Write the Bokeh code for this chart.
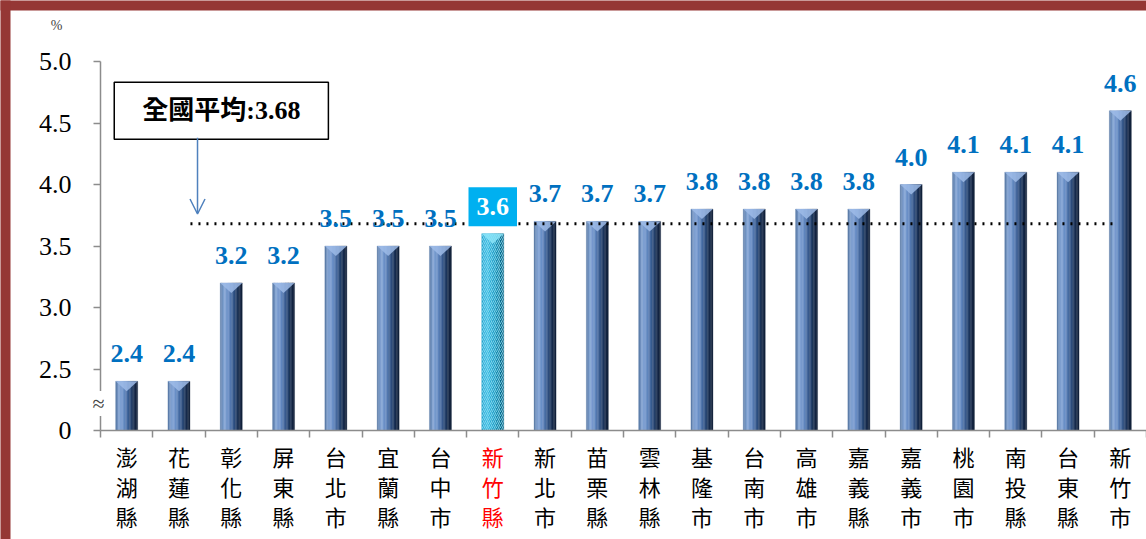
import numpy as np
from bokeh.plotting import figure
from bokeh.models import (Range1d, FixedTicker, ColumnDataSource, LabelSet, Label,
                          Arrow, OpenHead)
from bokeh.core.properties import value
from bokeh.embed import file_html
from bokeh.resources import INLINE

# ---------------- data ----------------
categories = ["澎湖縣", "花蓮縣", "彰化縣", "屏東縣", "台北市", "宜蘭縣", "台中市",
              "新竹縣", "新北市", "苗栗縣", "雲林縣", "基隆市", "台南市", "高雄市",
              "嘉義縣", "嘉義市", "桃園市", "南投縣", "台東縣", "新竹市"]
values = [2.4, 2.4, 3.2, 3.2, 3.5, 3.5, 3.5, 3.6, 3.7, 3.7, 3.7, 3.8, 3.8, 3.8,
          3.8, 4.0, 4.1, 4.1, 4.1, 4.6]
highlight = "新竹縣"
national_avg = 3.68
avg_text = "全國平均:3.68"
y_ticks = [2.0, 2.5, 3.0, 3.5, 4.0, 4.5, 5.0]
y_tick_labels = ["0", "2.5", "3.0", "3.5", "4.0", "4.5", "5.0"]
unit_label = "%"
break_mark = "≈"

# ---------------- helpers ----------------
def hex2rgb(h):
    h = h.lstrip("#")
    return np.array([int(h[i:i + 2], 16) for i in (0, 2, 4)], dtype=float)

def grad(stops, t):
    for (t0, c0), (t1, c1) in zip(stops[:-1], stops[1:]):
        if t0 <= t <= t1:
            f = (t - t0) / (t1 - t0)
            c = hex2rgb(c0) * (1 - f) + hex2rgb(c1) * f
            return "#%02x%02x%02x" % tuple(int(round(v)) for v in c)
    return stops[-1][1]

n = len(categories)
xs = np.arange(n) + 0.5
vals = np.array(values)
is_hl = np.array([c == highlight for c in categories])
base = y_ticks[0]

# canvas geometry (frame covers the whole canvas, axes are pinned)
W, H = 1146, 539
LEFT_PX, BOTTOM_PX = 100, 109          # room for tick labels
PX_X = (W - LEFT_PX) / n               # pixels per category
PX_Y = 123.0                           # pixels per data unit
x_rng = Range1d(-LEFT_PX / PX_X, n)
y_rng = Range1d(base - BOTTOM_PX / PX_Y, base + (H - BOTTOM_PX) / PX_Y)

p = figure(width=W, height=H, x_range=x_rng, y_range=y_rng,
           output_backend="svg", toolbar_location=None, min_border=0,
           min_border_left=0, min_border_right=0, min_border_top=0, min_border_bottom=0)
p.background_fill_color = "white"
p.border_fill_color = "white"
p.outline_line_color = None
p.xgrid.visible = False
p.ygrid.visible = False

# dark red frame strips (top and left)
red = "#953735"
bx, by = 10 / PX_X, 10 / PX_Y
p.quad(left=[x_rng.start - 1, x_rng.start - 1], right=[x_rng.end + 1, x_rng.start + bx],
       top=[y_rng.end + 1, y_rng.end + 1], bottom=[y_rng.end - by, y_rng.start - 1],
       fill_color=red, line_color=None)

# ---------------- bars ----------------
bar_w = 0.42
N = 16
blue_stops = [(0.0, "#54749f"), (0.18, "#86a7d8"), (0.4, "#6389c2"),
              (0.62, "#345689"), (0.82, "#192f52"), (1.0, "#101e36")]
cyan_stops = [(0.0, "#1f9cc6"), (0.25, "#3dbde6"), (0.55, "#1899c4"),
              (0.85, "#0c6f92"), (1.0, "#095a77")]

for mask, stops in ((~is_hl, blue_stops), (is_hl, cyan_stops)):
    for k in range(N):
        t = (k + 0.5) / N
        off = -bar_w / 2 + (k + 0.5) * bar_w / N
        c = grad(stops, t)
        p.vbar(x=xs[mask] + off, width=bar_w / N * 1.05, top=vals[mask], bottom=base,
               fill_color=c, line_color=c, line_width=0.3)

p.vbar(x=xs[is_hl], width=bar_w, top=vals[is_hl], bottom=base, fill_alpha=0,
       line_color=None, hatch_pattern="/", hatch_color="#8fe0f5", hatch_alpha=0.8,
       hatch_scale=4, hatch_weight=1)

d = 10 / PX_Y
for mask, col in ((~is_hl, "#9dbbe8"), (is_hl, "#8be4f8")):
    px = [[x - bar_w / 2, x + bar_w / 2, x] for x in xs[mask]]
    py = [[v, v, v - d] for v in vals[mask]]
    p.patches(px, py, fill_color=col, fill_alpha=0.85, line_color=None)

# average dotted line
p.line(x=[1.72, 19.37], y=[national_avg, national_avg], line_color="black",
       line_width=3, line_dash="2 6")

# ---------------- value labels ----------------
src_norm = ColumnDataSource(dict(x=xs[~is_hl], y=vals[~is_hl],
                                 t=[f"{v:.1f}" for v in vals[~is_hl]]))
p.add_layout(LabelSet(x="x", y="y", text="t", source=src_norm, text_align="center",
                      text_baseline="alphabetic", y_offset=19,
                      text_font=value("Liberation Serif"), text_font_style="bold",
                      text_font_size="26px", text_color="#0070C0"))
for x, v in zip(xs[is_hl], vals[is_hl]):
    p.add_layout(Label(x=float(x), y=float(v), text=f"{v:.1f}", text_align="center",
                       text_baseline="middle", y_offset=27,
                       text_font="Liberation Serif", text_font_style="bold",
                       text_font_size="26px", text_color="white",
                       background_fill_color="#00B0F0", padding=(8, 8, 11, 11)))

# category labels (multi-line, highlighted one in red)
src_cat = ColumnDataSource(dict(x=xs, t=["\n".join(c) for c in categories],
                                col=["red" if c == highlight else "black" for c in categories]))
p.add_layout(LabelSet(x="x", y=base, text="t", source=src_cat, y_offset=-9,
                      text_align="center", text_baseline="top",
                      text_font=value("Noto Sans CJK TC"), text_font_size="22px",
                      text_line_height=0.94, text_color="col"))

# national average box + arrow
p.add_layout(Label(x=2.31, y=4.60, text=avg_text, text_align="center",
                   text_baseline="middle",
                   text_font="Liberation Serif, Noto Sans CJK TC",
                   text_font_style="bold", text_font_size="26px", text_color="black",
                   background_fill_color="white", border_line_color="black",
                   border_line_width=1.5, padding=(28, 28, 14, 14)))
p.add_layout(Arrow(end=OpenHead(size=15, line_color="#4F81BD", line_width=1.5),
                   x_start=1.855, y_start=4.38, x_end=1.855, y_end=3.76,
                   line_color="#4F81BD", line_width=1.5))

# unit and axis-break marks
p.add_layout(Label(x=0, y=5.0, x_offset=-44, y_offset=36, text=unit_label,
                   text_align="center", text_baseline="middle",
                   text_font="Liberation Serif", text_font_size="14px"))
p.add_layout(Label(x=0, y=2.22, x_offset=-2, text=break_mark, text_align="center",
                   text_baseline="middle", text_font="Liberation Serif",
                   text_font_size="22px", background_fill_color="white"))

# ---------------- axes ----------------
ax = p.xaxis[0]
ax.fixed_location = base
ax.ticker = FixedTicker(ticks=list(xs), minor_ticks=list(range(n + 1)))
ax.major_label_overrides = {float(x): "" for x in xs}
ax.bounds = (0, n)
ax.axis_line_color = "#8c8c8c"
ax.axis_line_width = 1.5
ax.major_tick_line_color = None
ax.major_tick_out = 0
ax.major_tick_in = 0
ax.minor_tick_line_color = "#8c8c8c"
ax.minor_tick_line_width = 1.5
ax.minor_tick_out = 7
ax.minor_tick_in = 0

ay = p.yaxis[0]
ay.fixed_location = 0
ay.ticker = FixedTicker(ticks=y_ticks)
ay.major_label_overrides = {t: l for t, l in zip(y_ticks, y_tick_labels)}
ay.bounds = (base, 5.0)
ay.axis_line_color = "#8c8c8c"
ay.axis_line_width = 1.5
ay.major_tick_line_color = "#8c8c8c"
ay.major_tick_line_width = 1.5
ay.major_tick_out = 7
ay.major_tick_in = 0
ay.minor_tick_line_color = None
ay.major_label_standoff = 22
ay.major_label_text_font = "Liberation Serif"
ay.major_label_text_font_size = "26px"
ay.major_label_text_color = "black"

open("out.html", "w").write(file_html(p, INLINE))
